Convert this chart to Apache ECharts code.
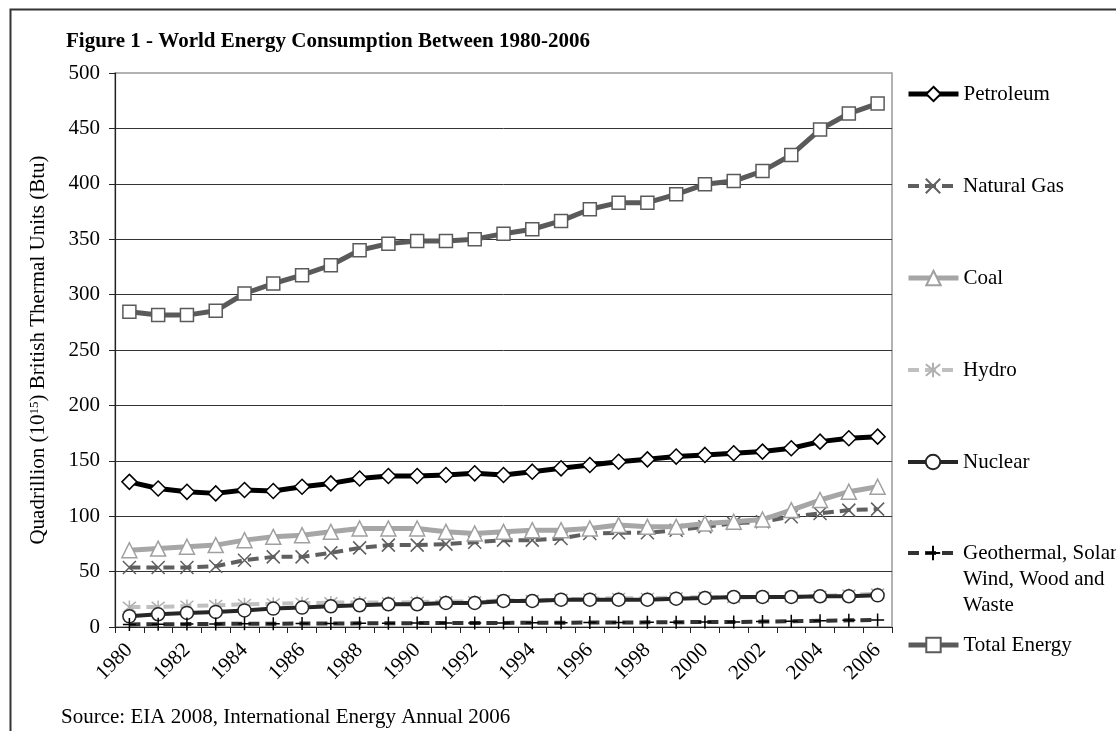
<!DOCTYPE html>
<html>
<head>
<meta charset="utf-8">
<script src="https://cdn.jsdelivr.net/npm/echarts@6/dist/echarts.min.js"></script>
<style>
html,body{margin:0;padding:0;background:#fff;}
#chart{width:1116px;height:731px;}
</style>
</head>
<body>
<div id="chart"></div>
<script>
var years = ['1980','1981','1982','1983','1984','1985','1986','1987','1988','1989','1990','1991','1992','1993','1994','1995','1996','1997','1998','1999','2000','2001','2002','2003','2004','2005','2006'];
var petroleum = [131, 125, 122, 120.6, 123.6, 122.7, 126.6, 129.6, 134, 136.3, 136.3, 137.2, 138.7, 137.2, 140.2, 143.2, 146.2, 149.2, 151.3, 153.8, 155.3, 156.8, 158.3, 161.3, 167.3, 170.3, 171.8];
var naturalGas = [53.7, 53.7, 53.7, 54.9, 60.3, 63.3, 63.3, 66.9, 71.4, 73.9, 73.9, 74.8, 76.5, 78.4, 78.4, 79.9, 84.4, 85, 85, 87.4, 90.4, 93.5, 95, 99.5, 102.5, 105.5, 106.4];
var coal = [69.3, 70.8, 72.4, 73.9, 78.4, 81.4, 82.9, 85.9, 88.9, 88.9, 88.9, 85.9, 84.4, 85.9, 87.4, 87.4, 88.9, 92, 90.4, 90.4, 93.5, 95, 97, 105.5, 114.6, 122.1, 126.6];
var hydro = [18, 18, 19, 19.5, 20.5, 21, 21.5, 22, 22, 22, 22.5, 23, 23, 24, 24, 25, 25.5, 26, 26, 26.5, 27, 26.5, 27, 27, 28, 29, 30];
var nuclear = [9.6, 11.5, 12.7, 13.6, 15, 16.6, 17.5, 18.7, 19.6, 20.5, 20.5, 21.7, 21.7, 23.5, 23.5, 24.7, 24.7, 24.7, 24.7, 25.6, 26.2, 27.1, 27.1, 27.1, 27.7, 27.7, 28.6];
var geothermal = [2.3, 2.5, 2.6, 2.8, 2.9, 3.0, 3.1, 3.2, 3.3, 3.4, 3.5, 3.6, 3.6, 3.7, 3.8, 3.9, 4.0, 4.1, 4.2, 4.3, 4.6, 4.5, 4.9, 5.2, 5.6, 6.0, 6.4];
var totalEnergy = [284.5, 281.5, 281.5, 285.4, 301, 310, 317.5, 326.5, 340, 346, 348.4, 348.4, 350, 355, 359, 366.5, 377, 383, 383, 390.5, 399.5, 402.5, 411.5, 426, 449, 463.4, 472.4];
var yTicks = [0, 50, 100, 150, 200, 250, 300, 350, 400, 450, 500];

var FONT = "'Liberation Serif', 'Times New Roman', serif";
var chart = echarts.init(document.getElementById('chart'), null, {renderer: 'canvas'});

var names = ['Petroleum', 'Natural Gas', 'Coal', 'Hydro', 'Nuclear', 'Geothermal, Solar Wind, Wood and Waste', 'Total Energy'];
var legendCenters = [94, 186, 278, 370, 462, 553, 645];
var lineWidths = [5, 4, 5, 4, 4, 4, 5];
var LH = 26;

function legendFor(i) {
  var isGeo = i === 5;
  return {
    data: [names[i]],
    orient: 'vertical',
    left: 906,
    top: isGeo ? legendCenters[i] - LH * 2.5 : legendCenters[i] - LH / 2,
    padding: 0,
    itemWidth: 50,
    itemHeight: 18,
    selectedMode: false,
    lineStyle: {width: lineWidths[i]},
    formatter: isGeo ? function () { return '\n\nGeothermal, Solar\nWind, Wood and\nWaste'; } : '{name}',
    textStyle: {fontFamily: FONT, fontSize: 21, color: '#000', lineHeight: LH}
  };
}

function mk(i, data, opt) {
  return {
    name: names[i], type: 'line', data: data,
    symbol: opt.symbol, symbolSize: opt.size,
    lineStyle: {color: opt.line, width: lineWidths[i], type: opt.dash || 'solid'},
    itemStyle: {color: opt.fill, borderColor: opt.border, borderWidth: 1.5},
    emphasis: {disabled: true},
    z: opt.z
  };
}

var option = {
  animation: false,
  backgroundColor: '#fff',
  title: [
    {text: 'Figure 1 - World Energy Consumption Between 1980-2006', left: 61, top: 26,
     textStyle: {fontFamily: FONT, fontSize: 21, fontWeight: 'bold', color: '#000'}},
    {text: 'Source: EIA 2008, International Energy Annual 2006', left: 56, top: 702,
     textStyle: {fontFamily: FONT, fontSize: 21, fontWeight: 'normal', color: '#000'}}
  ],
  graphic: [{
    type: 'rect', left: 8, top: 7, silent: true,
    shape: {x: 0, y: 0, width: 1300, height: 900},
    style: {fill: 'none', stroke: '#333', lineWidth: 2}
  }],
  legend: [0, 1, 2, 3, 4, 5, 6].map(legendFor),
  grid: {left: 115, right: 224, top: 73, bottom: 104, show: true, borderColor: '#999', borderWidth: 1.5, backgroundColor: 'transparent'},
  xAxis: {
    type: 'category', data: years, boundaryGap: true,
    axisLine: {lineStyle: {color: '#222', width: 1.2}},
    axisTick: {show: true, interval: 0, length: 6, inside: false, lineStyle: {color: '#222'}},
    axisLabel: {interval: 1, rotate: 45, margin: 20, fontFamily: FONT, fontSize: 21, color: '#000'},
    splitLine: {show: false}
  },
  yAxis: {
    type: 'value', min: yTicks[0], max: yTicks[yTicks.length - 1], interval: 50,
    name: '{a|Quadrillion (10}{s|15}{a|) British Thermal Units (Btu)}',
    nameLocation: 'middle', nameGap: 66, nameRotate: 90,
    nameTextStyle: {
      fontFamily: FONT, color: '#000',
      rich: {
        a: {fontFamily: FONT, fontSize: 21, color: '#000'},
        s: {fontFamily: FONT, fontSize: 13, color: '#000', verticalAlign: 'top'}
      }
    },
    axisLine: {show: true, lineStyle: {color: '#222', width: 1.2}},
    axisTick: {show: true, length: 6, lineStyle: {color: '#222'}},
    axisLabel: {margin: 15, fontFamily: FONT, fontSize: 21, color: '#000'},
    splitLine: {show: true, showMaxLine: false, showMinLine: false, lineStyle: {color: '#333', width: 1}}
  },
  series: [
    mk(0, petroleum, {symbol: 'diamond', size: 15, line: '#000', fill: '#fff', border: '#000', z: 2}),
    mk(1, naturalGas, {symbol: 'path://M0,0L10,10M10,0L0,10', size: 13, line: '#5f5f5f', dash: [11, 6], fill: '#5f5f5f', border: '#5f5f5f', z: 3}),
    mk(2, coal, {symbol: 'triangle', size: 15, line: '#a6a6a6', fill: '#fff', border: '#a0a0a0', z: 4}),
    mk(3, hydro, {symbol: 'path://M1,1L9,9M9,1L1,9M5,0L5,10', size: 13, line: '#c0c0c0', dash: [11, 6], fill: '#b0b0b0', border: '#b0b0b0', z: 5}),
    mk(4, nuclear, {symbol: 'circle', size: 13, line: '#262626', fill: '#fff', border: '#262626', z: 6}),
    mk(5, geothermal, {symbol: 'path://M5,0L5,10M0,5L10,5', size: 13, line: '#333', dash: [11, 6], fill: '#000', border: '#000', z: 7}),
    mk(6, totalEnergy, {symbol: 'rect', size: 13, line: '#5a5a5a', fill: '#fff', border: '#5a5a5a', z: 8})
  ]
};
chart.setOption(option);
</script>
</body>
</html>
